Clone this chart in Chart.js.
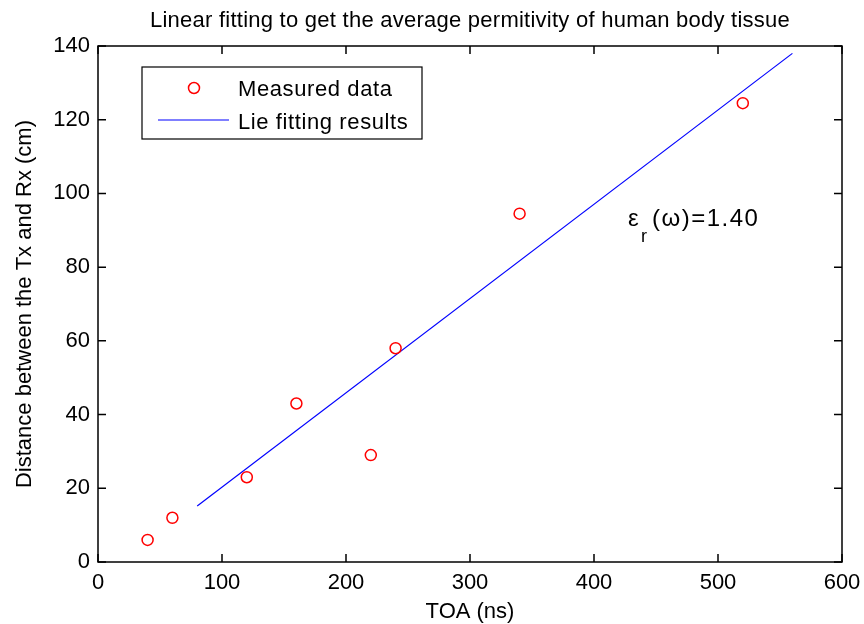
<!DOCTYPE html>
<html>
<head>
<meta charset="utf-8">
<script src="https://cdn.jsdelivr.net/npm/chart.js@4.4.0/dist/chart.umd.min.js"></script>
<style>
  body { margin: 0; background: #fff; }
</style>
</head>
<body>
<canvas id="c" width="864" height="624"></canvas>
<script>
// measured points
const toaNs = [40, 60, 120, 160, 220, 240, 340, 520];
const distanceCm = [6, 12, 23, 43, 29, 58, 94.5, 124.5];
// fitted line end points
const fitToa = [80, 560];
const fitDistance = [15.2, 138];
const xTicks = [0, 100, 200, 300, 400, 500, 600];
const yTicks = [0, 20, 40, 60, 80, 100, 120, 140];

const FONT = "'Liberation Sans', Arial, sans-serif";

function txt(ctx, s, x, y, size, spacing, align, base) {
  ctx.font = size + 'px ' + FONT;
  ctx.letterSpacing = (spacing || 0) + 'px';
  ctx.textAlign = align || 'left';
  ctx.textBaseline = base || 'alphabetic';
  ctx.fillText(s, x, y);
}

// frame, inner ticks, legend, labels
const decor = {
  id: 'decor',
  afterDraw(chart) {
    const ctx = chart.ctx;
    const a = chart.chartArea;
    const xs = chart.scales.x, ys = chart.scales.y;
    ctx.save();
    ctx.strokeStyle = '#000';
    ctx.lineWidth = 1.5;
    ctx.strokeRect(a.left, a.top, a.right - a.left, a.bottom - a.top);
    ctx.beginPath();
    xTicks.forEach(v => {
      const px = xs.getPixelForValue(v);
      ctx.moveTo(px, a.bottom); ctx.lineTo(px, a.bottom - 8);
      ctx.moveTo(px, a.top); ctx.lineTo(px, a.top + 8);
    });
    yTicks.forEach(v => {
      const py = ys.getPixelForValue(v);
      ctx.moveTo(a.left, py); ctx.lineTo(a.left + 8, py);
      ctx.moveTo(a.right, py); ctx.lineTo(a.right - 8, py);
    });
    ctx.stroke();

    ctx.fillStyle = '#000';
    txt(ctx, 'Linear fitting to get the average permitivity of human body tissue', (a.left + a.right) / 2, 27, 22, 0.25, 'center');
    txt(ctx, 'TOA (ns)', (a.left + a.right) / 2, 618, 22, 0, 'center');
    ctx.save();
    ctx.translate(31, (a.top + a.bottom) / 2);
    ctx.rotate(-Math.PI / 2);
    txt(ctx, 'Distance between the Tx and Rx (cm)', 0, 0, 22, 0, 'center');
    ctx.restore();

    // legend box
    ctx.fillStyle = '#fff';
    ctx.fillRect(142, 67, 280, 72);
    ctx.lineWidth = 1.2;
    ctx.strokeRect(142, 67, 280, 72);
    ctx.strokeStyle = '#ff0000';
    ctx.lineWidth = 1.5;
    ctx.beginPath();
    ctx.arc(194, 88, 5.5, 0, Math.PI * 2);
    ctx.stroke();
    ctx.strokeStyle = '#0000ff';
    ctx.lineWidth = 1.2;
    ctx.beginPath();
    ctx.moveTo(158, 120); ctx.lineTo(229, 120);
    ctx.stroke();
    ctx.fillStyle = '#000';
    txt(ctx, 'Measured data', 238, 96, 22, 0.6);
    txt(ctx, 'Lie fitting results', 238, 129, 22, 0.6);

    // annotation
    txt(ctx, '\u03b5', 628, 226, 24);
    txt(ctx, 'r', 641, 242, 18);
    txt(ctx, '(\u03c9)=1.40', 652, 226, 24, 1.5);
    ctx.restore();
  }
};

new Chart(document.getElementById('c'), {
  type: 'scatter',
  data: {
    datasets: [
      {
        label: 'Measured data',
        data: toaNs.map((x, i) => ({ x: x, y: distanceCm[i] })),
        pointStyle: 'circle',
        pointRadius: 5.5,
        pointBorderColor: '#ff0000',
        pointBackgroundColor: 'rgba(0,0,0,0)',
        pointBorderWidth: 1.5,
        showLine: false
      },
      {
        label: 'Lie fitting results',
        data: fitToa.map((x, i) => ({ x: x, y: fitDistance[i] })),
        showLine: true,
        borderColor: '#0000ff',
        borderWidth: 1.2,
        pointRadius: 0
      }
    ]
  },
  options: {
    responsive: false,
    animation: false,
    devicePixelRatio: 1,
    layout: { padding: { top: 46, right: 22, left: 0, bottom: 0 } },
    plugins: { legend: { display: false }, tooltip: { enabled: false } },
    scales: {
      x: {
        type: 'linear', min: 0, max: 600,
        afterBuildTicks: s => { s.ticks = xTicks.map(v => ({ value: v })); },
        afterFit: s => { s.height = 62; },
        grid: { display: false },
        border: { display: false },
        ticks: { color: '#000', padding: 0, maxRotation: 0, font: { size: 22, family: FONT } }
      },
      y: {
        type: 'linear', min: 0, max: 140,
        afterBuildTicks: s => { s.ticks = yTicks.map(v => ({ value: v })); },
        afterFit: s => { s.width = 98; },
        grid: { display: false },
        border: { display: false },
        ticks: { color: '#000', padding: 0, font: { size: 22, family: FONT } }
      }
    }
  },
  plugins: [decor]
});
</script>
</body>
</html>
